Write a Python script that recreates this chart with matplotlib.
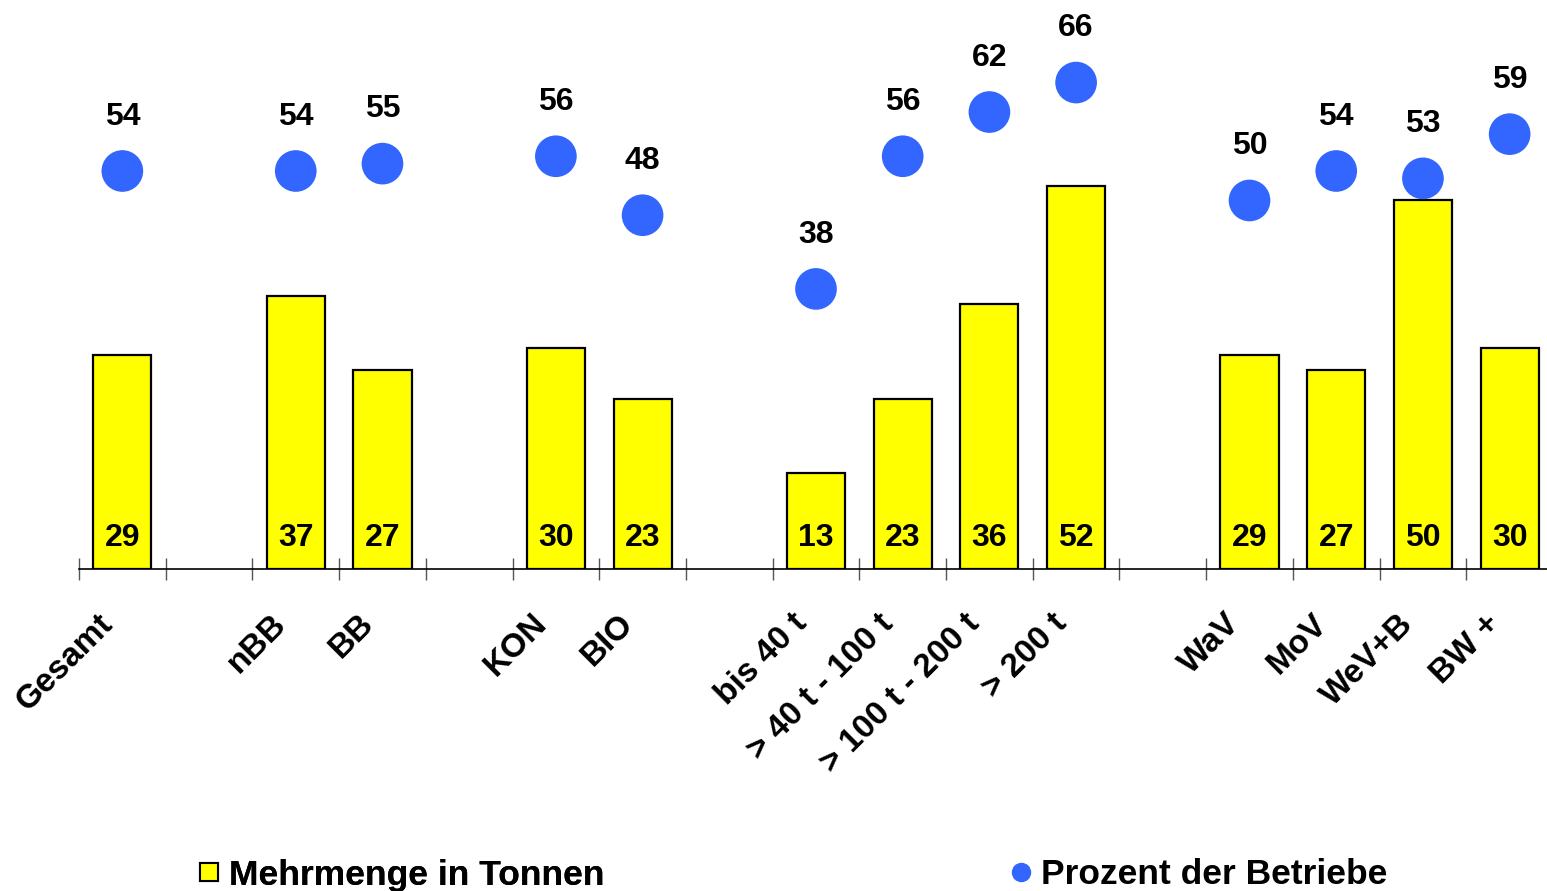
import matplotlib
matplotlib.use("Agg")
import matplotlib.pyplot as plt
import matplotlib.transforms as mtransforms
from matplotlib.lines import Line2D

plt.rcParams['font.family'] = ['Liberation Sans', 'DejaVu Sans']
plt.rcParams['font.weight'] = 'bold'

# empty strings mark the gaps between the groups
categories = ["Gesamt", "", "nBB", "BB", "", "KON", "BIO", "",
              "bis 40 t", "> 40 t - 100 t", "> 100 t - 200 t", "> 200 t", "",
              "WaV", "MoV", "WeV+B", "BW +"]
tonnen = [29, None, 37, 27, None, 30, 23, None,
          13, 23, 36, 52, None,
          29, 27, 50, 30]
prozent = [54, None, 54, 55, None, 56, 48, None,
           38, 56, 62, 66, None,
           50, 54, 53, 59]

yellow = "#FFFF00"
blue = "#3366FF"

fig = plt.figure(figsize=(15.47, 8.91), dpi=100)
ax = fig.add_axes([79 / 1547, 322 / 891, 1474 / 1547, 569 / 891])

idx = [i for i, c in enumerate(categories) if c]
t_vals = [tonnen[i] for i in idx]
p_vals = [prozent[i] for i in idx]

ax.bar(idx, t_vals, width=0.67, color=yellow, edgecolor="black", linewidth=1.6, zorder=2)
ax.scatter(idx, p_vals, s=900, color=blue, edgecolors="none", zorder=3)

for x, v in zip(idx, t_vals):
    ax.annotate(str(v), (x, 0), xytext=(0, 22.5), textcoords="offset points",
                ha="center", va="center", fontsize=23, fontweight="bold")
for x, v in zip(idx, p_vals):
    ax.annotate(str(v), (x, v), xytext=(0, 39), textcoords="offset points",
                ha="center", va="center", fontsize=23, fontweight="bold")

ax.set_xlim(-0.5, len(categories) - 0.5)
ax.set_ylim(0, 77.2)

ax.set_xticks(range(len(categories)))
ax.set_xticklabels(categories, rotation=45, ha="right", va="center",
                   rotation_mode="anchor", fontsize=24, fontweight="bold")
ax.tick_params(axis="x", which="major", length=0, pad=36)
ax.set_xticks([i - 0.5 for i in range(len(categories) + 1)], minor=True)
ax.tick_params(axis="x", which="minor", direction="inout", length=16,
               width=1, color="#555555")
offset = mtransforms.ScaledTranslation(-14 / 100, 0, fig.dpi_scale_trans)
for lab in ax.get_xticklabels():
    lab.set_transform(lab.get_transform() + offset)

ax.set_yticks([])
for side in ["top", "right", "left"]:
    ax.spines[side].set_visible(False)
ax.spines["bottom"].set_linewidth(1.2)
ax.set_facecolor("none")

h1 = Line2D([], [], marker="s", linestyle="none", markersize=13,
            markerfacecolor=yellow, markeredgecolor="black", markeredgewidth=1.5)
h2 = Line2D([], [], marker="o", linestyle="none", markersize=14,
            markerfacecolor=blue, markeredgecolor="none")
leg_font = {"size": 25.5, "weight": "bold"}
leg1 = fig.legend([h1], ["Mehrmenge in Tonnen"], loc="center left",
                  bbox_to_anchor=(198 / 1547, 1 - 875 / 891), frameon=False,
                  handlelength=0.6, handletextpad=0.27, borderpad=0,
                  borderaxespad=0, prop=leg_font)
leg2 = fig.legend([h2], ["Prozent der Betriebe"], loc="center left",
                  bbox_to_anchor=(1010 / 1547, 1 - 875 / 891), frameon=False,
                  handlelength=0.6, handletextpad=0.27, borderpad=0,
                  borderaxespad=0, prop=leg_font)
fig.add_artist(leg1)

fig.savefig("out.png", dpi=100)
